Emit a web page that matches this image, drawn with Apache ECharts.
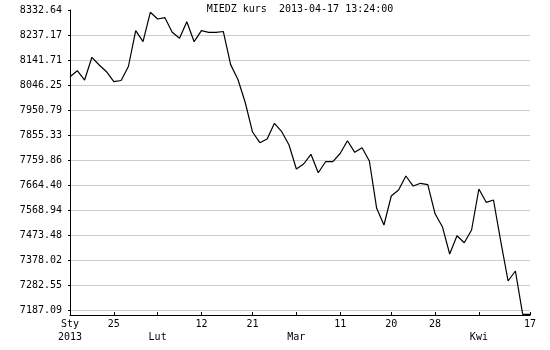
<!DOCTYPE html>
<html>
<head>
<meta charset="utf-8">
<script src="https://cdn.jsdelivr.net/npm/echarts@6/dist/echarts.min.js"></script>
<style>html,body{margin:0;padding:0;background:#fff}#c{width:550px;height:350px}</style>
</head>
<body>
<div id="c"></div>
<script>
// trading days (2013)
const dates = [
  "01-17","01-18","01-21","01-22","01-23","01-24","01-25","01-28","01-29","01-30","01-31",
  "02-01","02-04","02-05","02-06","02-07","02-08","02-11","02-12","02-13","02-14","02-15",
  "02-18","02-19","02-20","02-21","02-22","02-25","02-26","02-27","02-28",
  "03-01","03-04","03-05","03-06","03-07","03-08","03-11","03-12","03-13","03-14","03-15",
  "03-18","03-19","03-20","03-21","03-22","03-25","03-26","03-27","03-28","03-29",
  "04-02","04-03","04-04","04-05","04-08","04-09","04-10","04-11","04-12","04-15","04-16","04-17"
];
const prices = [
  8077.9, 8100.8, 8065.3, 8152.0, 8122.6, 8097.0, 8058.8, 8063.4, 8116.9, 8253.6, 8211.6,
  8323.9, 8298.3, 8303.2, 8247.5, 8224.6, 8288.0, 8211.6, 8253.6, 8247.5, 8247.5, 8250.5,
  8124.1, 8067.2, 7979.4, 7866.7, 7825.9, 7840.0, 7900.0, 7867.9, 7817.1,
  7725.5, 7744.6, 7781.6, 7711.3, 7753.3, 7753.3, 7784.6, 7833.5, 7789.2, 7806.8, 7756.0,
  7575.4, 7511.6, 7622.4, 7645.3, 7698.7, 7660.5, 7670.9, 7665.5, 7554.4, 7505.1,
  7400.9, 7470.8, 7444.0, 7492.5, 7649.1, 7598.3, 7607.1, 7447.9, 7297.8, 7336.0, 7170.6, 7170.6
];
const yTickLabels = ["7187.09","7282.55","7378.02","7473.48","7568.94","7664.40","7759.86",
  "7855.33","7950.79","8046.25","8141.71","8237.17","8332.64"];
const xTickLabels = {
  "01-17": "Sty\n2013", "01-25": "25", "02-04": "\nLut", "02-12": "12", "02-21": "21",
  "03-01": "\nMar", "03-11": "11", "03-20": "20", "03-28": "28", "04-08": "\nKwi", "04-17": "17"
};
const titleText = "MIEDZ kurs  2013-04-17 13:24:00";
const yMin = 7168.0;

const yVals = yTickLabels.map(Number);
const font = "DejaVu Sans Mono";
const chart = echarts.init(document.getElementById('c'), null, {renderer: 'canvas'});
chart.setOption({
  animation: false,
  backgroundColor: '#fff',
  title: {
    text: titleText, left: 300, top: 4, textAlign: 'center', padding: 0,
    textStyle: {fontFamily: font, fontSize: 10, fontWeight: 'normal', color: '#000'}
  },
  grid: {left: 70, right: 20, top: 10, bottom: 35, containLabel: false},
  xAxis: {
    type: 'category', data: dates, boundaryGap: false,
    axisLine: {lineStyle: {color: '#000', width: 1}},
    axisTick: {inside: true, length: 3, lineStyle: {color: '#000'},
      interval: (i, v) => xTickLabels[v] !== undefined},
    axisLabel: {
      interval: (i, v) => xTickLabels[v] !== undefined,
      formatter: v => xTickLabels[v] || '',
      fontFamily: font, fontSize: 10, color: '#000', margin: 3, lineHeight: 13
    },
    splitLine: {show: false}
  },
  yAxis: {
    type: 'value', min: yMin, max: yVals[yVals.length - 1],
    axisLine: {show: true, lineStyle: {color: '#000', width: 1}},
    axisTick: {show: true, length: 2, lineStyle: {color: '#000'}, customValues: yVals},
    axisLabel: {customValues: yVals, formatter: v => {
        const k = yVals.findIndex(t => Math.abs(t - v) < 0.01);
        return k >= 0 ? yTickLabels[k] : '';
      },
      fontFamily: font, fontSize: 10, color: '#000', margin: 8},
    splitLine: {show: true, showMaxLine: false, lineStyle: {color: '#cccccc', width: 1}}
  },
  series: [{
    type: 'line', data: prices, showSymbol: false, symbol: 'none',
    lineStyle: {color: '#000', width: 1.2}, itemStyle: {color: '#000'}
  }]
});
</script>
</body>
</html>
